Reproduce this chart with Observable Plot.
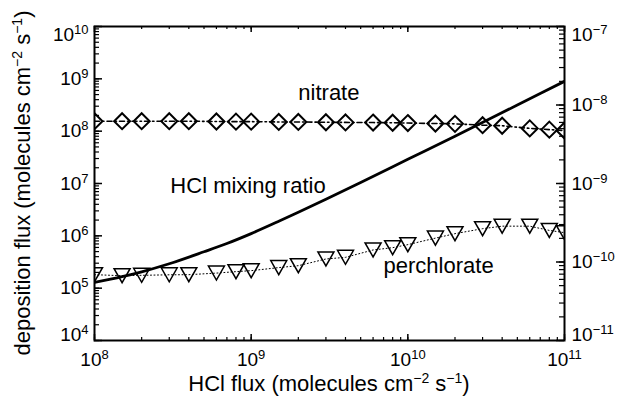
<!DOCTYPE html>
<html><head><meta charset="utf-8">
<script src="https://cdn.jsdelivr.net/npm/d3@7"></script>
<script src="https://cdn.jsdelivr.net/npm/@observablehq/plot@0.6"></script>
<style>
body{margin:0;background:#fff;}
#chart{position:relative;width:619px;height:397px;}
#chart svg{position:absolute;left:0;top:0;overflow:visible;}
</style></head><body><div id="chart"></div>
<script>
// ---- data ----
const hclFlux = [1e8,1.5e8,2e8,3e8,4e8,6e8,8e8,1e9,1.5e9,2e9,3e9,4e9,6e9,8e9,1e10,1.5e10,2e10,3e10,4e10,6e10,8e10,1e11];
const nitrate = [1.55e8,1.55e8,1.55e8,1.55e8,1.55e8,1.53e8,1.52e8,1.52e8,1.5e8,1.5e8,1.48e8,1.47e8,1.46e8,1.45e8,1.43e8,1.4e8,1.38e8,1.3e8,1.27e8,1.13e8,1.07e8,1.03e8];
const perchlorate = [1.81e5,1.73e5,1.76e5,1.8e5,1.81e5,1.94e5,2.07e5,2.16e5,2.47e5,2.69e5,3.61e5,3.88e5,5.37e5,5.94e5,6.79e5,9.04e5,1.1e6,1.37e6,1.53e6,1.53e6,1.27e6,1.15e6];
const mixFlux = [1e8,1.5e8,2e8,3e8,5e8,7e8,1e9,1.5e9,2e9,3e9,5e9,1e10,2e10,5e10,1e11];
const mixRatio = [5.5e-11,6.5e-11,7.5e-11,9.5e-11,1.35e-10,1.72e-10,2.3e-10,3.3e-10,4.3e-10,6.3e-10,1.03e-9,2.03e-9,4.0e-9,1.0e-8,2.0e-8];
const xTicks = [1e8,1e9,1e10,1e11];
const leftTicks = [1e4,1e5,1e6,1e7,1e8,1e9,1e10];
const rightTicks = [1e-11,1e-10,1e-9,1e-8,1e-7];
const annText = ["nitrate","HCl mixing ratio","perchlorate"];
const annX = [2e9,3.05e8,7e9];
const annY = [4e8,6.7e6,1.92e5];

// ---- layout ----
const W = 619, H = 397, mL = 94, mR = 55, mT = 26, mB = 57;
const pw = W - mL - mR, ph = H - mT - mB;
const FONT = "'Liberation Sans', Arial, Helvetica, sans-serif";
const xDomain = [1e8,1e11], yDomain = [1e4,1e10], rDomain = [1e-11,1e-7];
const xMinor = d3.scaleLog().domain(xDomain).ticks();
const yMinor = d3.scaleLog().domain(yDomain).ticks();
const rMinor = d3.scaleLog().domain(rDomain).ticks();

const series = hclFlux.map((x,i)=>({x, nitrate: nitrate[i], perchlorate: perchlorate[i]}));
const mix = mixFlux.map((x,i)=>({x, y: mixRatio[i]}));
const ann = annText.map((t,i)=>({t, x: annX[i], y: annY[i]}));
const fmt = d => "10^" + Math.round(Math.log10(d));

const triDown = {draw(ctx, size){ const s = Math.sqrt(size); const w = s*0.594, h = s*0.52;
  ctx.moveTo(-w,-h); ctx.lineTo(w,-h); ctx.lineTo(0,h); ctx.closePath(); }};

const base = {width: W, height: H, marginLeft: mL, marginRight: mR, marginTop: mT, marginBottom: mB};

const p1 = Plot.plot({
  ...base,
  style: {fontFamily: FONT, fontSize: "19px", background: "white", color: "black"},
  x: {type: "log", domain: xDomain},
  y: {type: "log", domain: yDomain},
  marks: [
    Plot.line(series, {x: "x", y: "nitrate", stroke: "black", strokeWidth: 1.6, strokeDasharray: "5,3,1.5,3", clip: true}),
    Plot.dot(series, {x: "x", y: "nitrate", symbol: "diamond2", r: 7.2, stroke: "black", strokeWidth: 2, fill: "none", clip: true}),
    Plot.line(series, {x: "x", y: "perchlorate", stroke: "black", strokeWidth: 1, strokeDasharray: "1,2.5", clip: true}),
    Plot.dot(series, {x: "x", y: "perchlorate", symbol: triDown, r: 7.6, stroke: "black", strokeWidth: 1.5, fill: "none", clip: true}),
    Plot.text(ann, {x: "x", y: "y", text: "t", textAnchor: "start", lineAnchor: "bottom", fontSize: 22, fill: "black"}),
    // inward ticks: left (y), bottom and top (x)
    Plot.ruleY(yMinor, {y: d => d, insetRight: pw - 5, stroke: "black", strokeWidth: 1.2}),
    Plot.ruleY(leftTicks, {y: d => d, insetRight: pw - 8, stroke: "black", strokeWidth: 1.5}),
    Plot.ruleX(xMinor, {x: d => d, insetTop: ph - 3, stroke: "black", strokeWidth: 1.2}),
    Plot.ruleX(xTicks, {x: d => d, insetTop: ph - 6, stroke: "black", strokeWidth: 1.5}),
    Plot.ruleX(xMinor, {x: d => d, insetBottom: ph - 3, stroke: "black", strokeWidth: 1.2}),
    Plot.ruleX(xTicks, {x: d => d, insetBottom: ph - 6, stroke: "black", strokeWidth: 1.5}),
    Plot.axisX({ticks: xTicks, tickSize: 0, tickPadding: 12, tickFormat: fmt, label: null}),
    Plot.axisY({ticks: leftTicks, tickSize: 0, tickPadding: 6, tickFormat: fmt, label: null}),
    Plot.frame({stroke: "black", strokeWidth: 2})
  ]
});

const p2 = Plot.plot({
  ...base,
  style: {fontFamily: FONT, fontSize: "19px", background: "none", color: "black"},
  x: {type: "log", domain: xDomain, axis: null},
  y: {type: "log", domain: rDomain},
  marks: [
    Plot.line(mix, {x: "x", y: "y", stroke: "black", strokeWidth: 2.8, curve: "monotone-x", clip: true}),
    Plot.ruleY(rMinor, {y: d => d, insetLeft: pw - 5, stroke: "black", strokeWidth: 1.2}),
    Plot.ruleY(rightTicks, {y: d => d, insetLeft: pw - 8, stroke: "black", strokeWidth: 1.5}),
    Plot.axisY({anchor: "right", ticks: rightTicks, tickSize: 0, tickPadding: 7, tickFormat: fmt, label: null})
  ]
});

// superscript exponents; like MATLAB, nudge the end labels of the y axes inward
function supify(svg, yEnds){
  d3.select(svg).selectAll('g[aria-label$="tick label"] text').each(function(){
    const m = this.textContent.match(/^10\^(.+)$/);
    if (!m) return;
    this.textContent = "10";
    d3.select(this).append("tspan").attr("dy", -7).attr("font-size", 13).text(m[1].replace("-", "\u2212"));
    const isY = this.parentNode.getAttribute("aria-label").startsWith("y");
    if (isY && yEnds) {
      const e = +m[1];
      let off = 0;
      if (e === yEnds[0]) off = -6;
      if (e === yEnds[1]) off = 8;
      if (off) { const tr = this.getAttribute("transform") || ""; this.setAttribute("transform", tr + ` translate(0,${off})`); }
    }
  });
}
supify(p1, [4, 10]); supify(p2, [-11, -7]);

function richLabel(g, parts){
  const t = g.append("text").attr("fill","black").attr("font-size",22).attr("font-family",FONT).attr("text-anchor","middle");
  let up = false;
  for (const [s, sup] of parts){
    const ts = t.append("tspan").text(s);
    if (sup && !up){ ts.attr("dy",-8).attr("font-size",14); up = true; }
    else if (sup){ ts.attr("font-size",14); }
    else if (!sup && up){ ts.attr("dy",8); up = false; }
  }
  return t;
}
const lab = [["(molecules cm",false],["\u22122",true],[" s",false],["\u22121",true],[")",false]];
const s1 = d3.select(p1);
richLabel(s1, [["HCl flux ",false], ...lab]).attr("x", mL + pw/2).attr("y", H - 6);
richLabel(s1, [["deposition flux ",false], ...lab]).attr("transform", `translate(30,${mT + ph/2}) rotate(-90)`);

const chart = document.getElementById("chart");
chart.appendChild(p1);
chart.appendChild(p2);
</script></body></html>
